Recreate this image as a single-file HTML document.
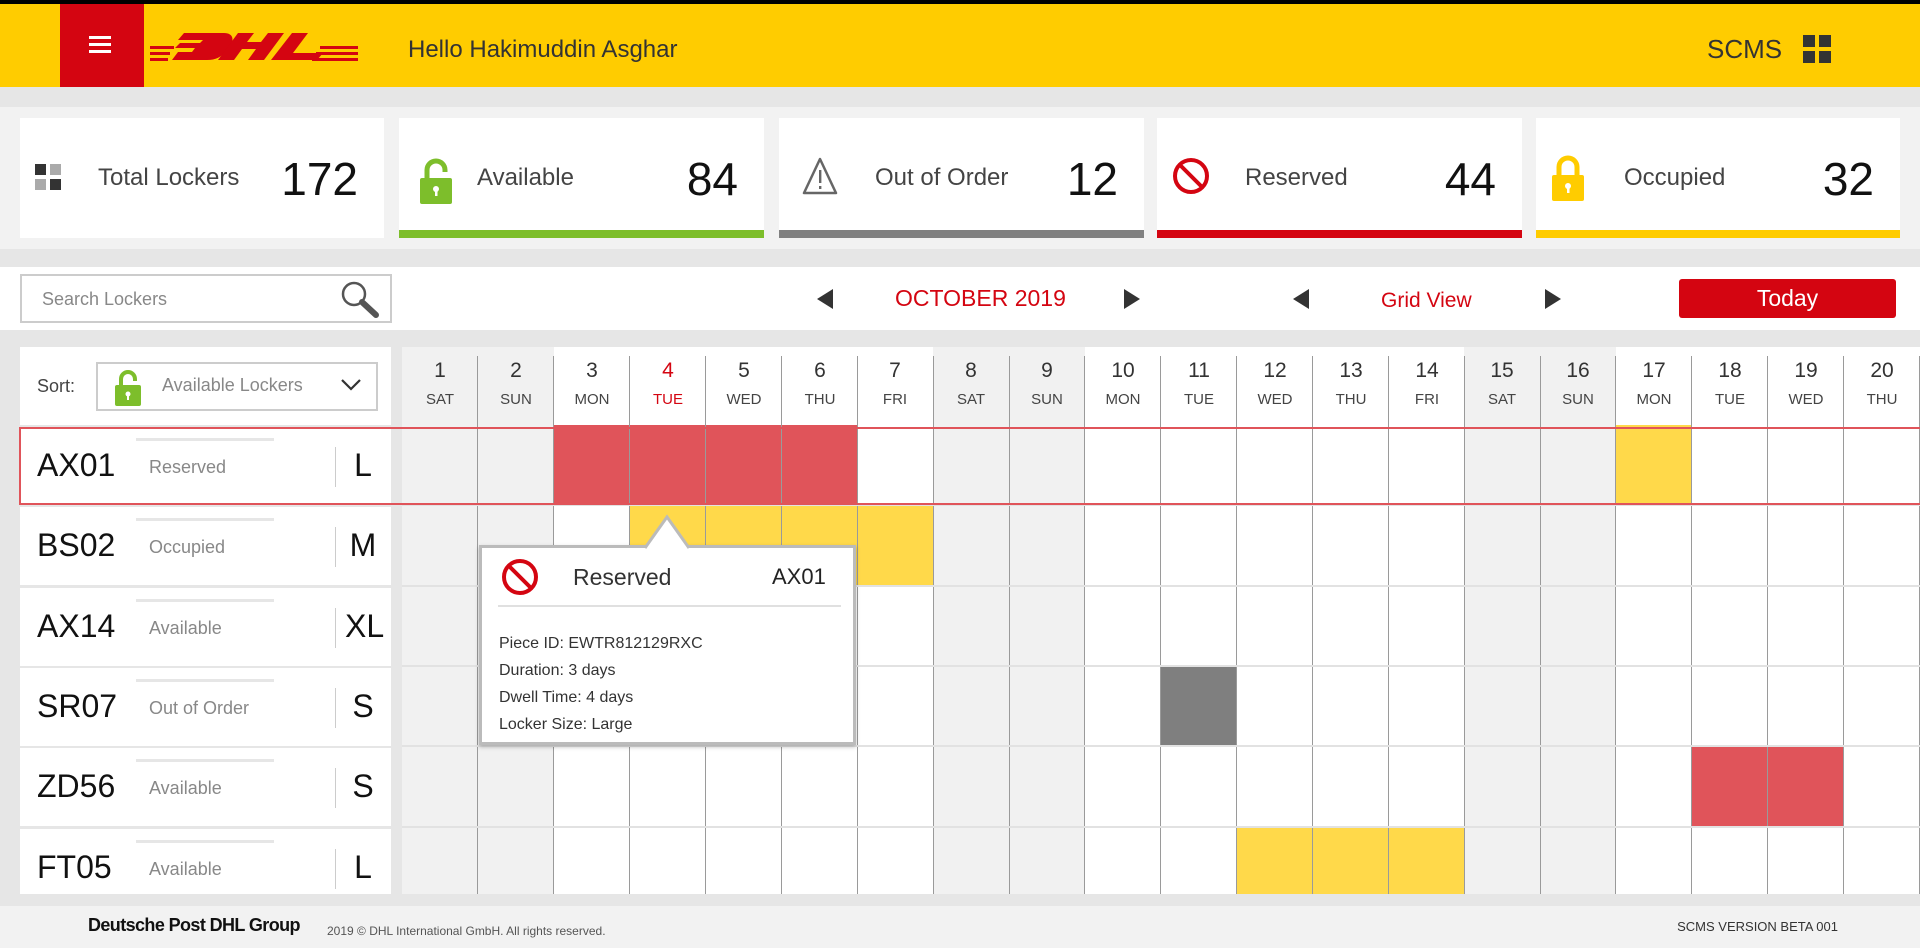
<!DOCTYPE html>
<html><head><meta charset="utf-8">
<style>
*{margin:0;padding:0;box-sizing:border-box}
body{width:1920px;height:948px;overflow:hidden;background:#e6e6e6;font-family:"Liberation Sans",sans-serif;position:relative;color:#222}
.a{position:absolute}
.card{position:absolute;top:118px;height:120px;background:#fff}
.card .bar{position:absolute;left:0;right:0;bottom:0;height:8px}
.card .lbl{position:absolute;left:78px;top:46px;font-size:24px;color:#444}
.card .num{position:absolute;right:26px;top:34px;font-size:46px;color:#111}
.hd{position:absolute;top:347px;height:78px;width:76px;text-align:center}
.hd .n{font-size:21px;margin-top:12px;color:#333}
.hd .d{font-size:15px;margin-top:8px;color:#444}
.row{position:absolute;left:20px;width:371px;height:78px;background:#fff}
.row .id{position:absolute;left:17px;top:20px;font-size:32px;color:#111}
.row .st{position:absolute;left:129px;top:30px;font-size:18px;color:#888}
.row .ln{position:absolute;left:116px;top:11px;width:138px;height:3px;background:#e6e6e6}
.row .sp{position:absolute;left:315px;top:20px;width:1px;height:40px;background:#ccc}
.row .sz{position:absolute;left:325px;width:36px;text-align:center;top:20px;font-size:32px;color:#111}
.c{position:absolute}
.v{position:absolute;top:356px;width:1px;height:538px;background:#9a9a9a}
</style></head><body>
<div class="a" style="left:0;top:0;width:1920px;height:4px;background:#000"></div>
<div class="a" style="left:0;top:4px;width:1920px;height:83px;background:#FFCC00"></div>
<div class="a" style="left:60px;top:4px;width:84px;height:83px;background:#D40511"></div>
<div class="a" style="left:89px;top:36px;width:22px;height:3px;background:#fff;box-shadow:0 7px 0 #fff,0 14px 0 #fff"></div>
<svg class="a" style="left:150px;top:30px" width="208" height="34" viewBox="0 0 208 34">
<g fill="#D40511">
<path d="M34 3h40c10 0 10 8 6 13l-5 6c-4 5-9 8-18 8H22l6-8h14l3-4h-20l5-5h20l3-3H28z"/>
<path d="M88 3h16l-7 9h14l7-9h16l-20 27h-16l8-11h-14l-8 11H68z"/>
<path d="M142 3h16l-15 20h30l-6 7h-46z"/>
<rect x="0" y="16" width="24" height="3"/><rect x="0" y="22" width="20" height="3"/><rect x="0" y="28" width="18" height="3"/>
<rect x="170" y="16" width="38" height="3"/><rect x="166" y="22" width="42" height="3"/><rect x="162" y="28" width="46" height="3"/>
</g></svg>
<div class="a" style="left:408px;top:36px;font-size:24px;color:#333">Hello Hakimuddin Asghar</div>
<div class="a" style="left:1707px;top:34px;font-size:26px;color:#333">SCMS</div>
<div class="a" style="left:1803px;top:35px;width:12px;height:12px;background:#333;box-shadow:16px 0 0 #333,0 16px 0 #333,16px 16px 0 #333"></div>

<div class="a" style="left:0;top:107px;width:1920px;height:142px;background:#f2f2f2"></div>
<!-- cards -->
<div class="card" style="left:20px;width:364px">
 <div class="a" style="left:15px;top:46px;width:11px;height:11px;background:#333"></div>
 <div class="a" style="left:30px;top:46px;width:11px;height:11px;background:#aaa"></div>
 <div class="a" style="left:15px;top:61px;width:11px;height:11px;background:#aaa"></div>
 <div class="a" style="left:30px;top:61px;width:11px;height:11px;background:#333"></div>
 <div class="lbl">Total Lockers</div><div class="num">172</div></div>
<div class="card" style="left:399px;width:365px">
 <svg class="a" style="left:21px;top:40px" width="34" height="46"><path d="M7 20V12a9 9 0 0 1 18 0v2" fill="none" stroke="#7DBE2B" stroke-width="5"/><rect x="0" y="20" width="32" height="26" rx="2" fill="#7DBE2B"/><circle cx="16" cy="31" r="3" fill="#fff"/><rect x="15" y="31" width="2.5" height="7" fill="#fff"/></svg>
 <div class="lbl">Available</div><div class="num">84</div><div class="bar" style="background:#7DBE2B"></div></div>
<div class="card" style="left:779px;width:365px">
 <svg class="a" style="left:22px;top:38px" width="38" height="40"><path d="M19 3L3 37h32z" fill="none" stroke="#666" stroke-width="2.5" stroke-linejoin="round"/><rect x="18" y="14" width="2.4" height="13" fill="#666"/><rect x="18" y="30" width="2.4" height="3" fill="#666"/></svg>
 <div class="lbl" style="left:96px">Out of Order</div><div class="num">12</div><div class="bar" style="background:#808080"></div></div>
<div class="card" style="left:1157px;width:365px">
 <svg class="a" style="left:14px;top:38px" width="40" height="40"><circle cx="20" cy="20" r="16" fill="none" stroke="#D40511" stroke-width="4"/><path d="M9 9l22 22" stroke="#D40511" stroke-width="4"/></svg>
 <div class="lbl" style="left:88px">Reserved</div><div class="num">44</div><div class="bar" style="background:#D40511"></div></div>
<div class="card" style="left:1536px;width:364px">
 <svg class="a" style="left:16px;top:36px" width="34" height="48"><path d="M7 22V13a9 9 0 0 1 18 0v9" fill="none" stroke="#FFCC00" stroke-width="5"/><rect x="0" y="21" width="32" height="26" rx="2" fill="#FFCC00"/><circle cx="16" cy="32" r="3" fill="#fff"/><rect x="15" y="32" width="2.5" height="7" fill="#fff"/></svg>
 <div class="lbl" style="left:88px">Occupied</div><div class="num">32</div><div class="bar" style="background:#FFCC00"></div></div>

<!-- toolbar -->
<div class="a" style="left:0;top:267px;width:1920px;height:63px;background:#fff"></div>
<div class="a" style="left:20px;top:274px;width:372px;height:49px;border:2px solid #ccc;background:#fff"></div>
<div class="a" style="left:42px;top:289px;font-size:18px;color:#888">Search Lockers</div>
<svg class="a" style="left:340px;top:280px" width="50" height="42"><circle cx="14" cy="14" r="11" fill="none" stroke="#555" stroke-width="2.5"/><path d="M22 22l14 13" stroke="#555" stroke-width="6" stroke-linecap="round"/></svg>
<div class="a" style="left:817px;top:289px;width:0;height:0;border-top:10px solid transparent;border-bottom:10px solid transparent;border-right:16px solid #333"></div>
<div class="a" style="left:895px;top:285px;font-size:23px;color:#D40511">OCTOBER 2019</div>
<div class="a" style="left:1124px;top:289px;width:0;height:0;border-top:10px solid transparent;border-bottom:10px solid transparent;border-left:16px solid #333"></div>
<div class="a" style="left:1293px;top:289px;width:0;height:0;border-top:10px solid transparent;border-bottom:10px solid transparent;border-right:16px solid #333"></div>
<div class="a" style="left:1381px;top:289px;font-size:21px;color:#D40511">Grid View</div>
<div class="a" style="left:1545px;top:289px;width:0;height:0;border-top:10px solid transparent;border-bottom:10px solid transparent;border-left:16px solid #333"></div>
<div class="a" style="left:1679px;top:279px;width:217px;height:39px;background:#D40511;border-radius:3px;color:#fff;font-size:23px;text-align:center;line-height:39px">Today</div>

<!-- left panel header -->
<div class="a" style="left:20px;top:347px;width:371px;height:78px;background:#fff"></div>
<div class="a" style="left:37px;top:376px;font-size:18px;color:#444">Sort:</div>
<div class="a" style="left:96px;top:362px;width:282px;height:49px;border:2px solid #ccc;background:#fff"></div>
<svg class="a" style="left:115px;top:369px" width="28" height="38"><path d="M6 17V10a7 7 0 0 1 14 0v2" fill="none" stroke="#7DBE2B" stroke-width="4"/><rect x="0" y="16" width="26" height="21" rx="2" fill="#7DBE2B"/><circle cx="13" cy="25" r="2.5" fill="#fff"/><rect x="12" y="25" width="2" height="6" fill="#fff"/></svg>
<div class="a" style="left:162px;top:375px;font-size:18px;color:#888">Available Lockers</div>
<svg class="a" style="left:340px;top:377px" width="22" height="16"><path d="M2 3l9 9 9-9" fill="none" stroke="#333" stroke-width="2.2"/></svg>

<!-- calendar -->
<div class="a" style="left:402px;top:347px;width:1518px;height:547px;background:#fff"></div>
<div class="a" style="left:402px;top:347px;width:152px;height:547px;background:#f1f1f1"></div>
<div class="a" style="left:933px;top:347px;width:152px;height:547px;background:#f1f1f1"></div>
<div class="a" style="left:1464px;top:347px;width:152px;height:547px;background:#f1f1f1"></div>
<!-- colored cells -->
<div class="c" style="left:554px;top:425px;width:304px;height:80px;background:#E0545A"></div>
<div class="c" style="left:1616px;top:425px;width:76px;height:80px;background:#FFD94A"></div>
<div class="c" style="left:630px;top:505px;width:304px;height:81px;background:#FFD94A"></div>
<div class="c" style="left:1161px;top:666px;width:76px;height:80px;background:#7f7f7f"></div>
<div class="c" style="left:1692px;top:746px;width:152px;height:81px;background:#E0545A"></div>
<div class="c" style="left:1237px;top:827px;width:228px;height:67px;background:#FFD94A"></div>
<!-- grid lines -->
<div class="v" style="left:477px"></div><div class="v" style="left:553px"></div><div class="v" style="left:629px"></div>
<div class="v" style="left:705px"></div><div class="v" style="left:781px"></div><div class="v" style="left:857px"></div>
<div class="v" style="left:933px"></div><div class="v" style="left:1009px"></div><div class="v" style="left:1084px"></div>
<div class="v" style="left:1160px"></div><div class="v" style="left:1236px"></div><div class="v" style="left:1312px"></div>
<div class="v" style="left:1388px"></div><div class="v" style="left:1464px"></div><div class="v" style="left:1540px"></div>
<div class="v" style="left:1615px"></div><div class="v" style="left:1691px"></div><div class="v" style="left:1767px"></div>
<div class="v" style="left:1843px"></div><div class="v" style="left:1919px"></div>
<div class="a" style="left:402px;top:504px;width:1518px;height:2px;background:#e2e2e2"></div>
<div class="a" style="left:402px;top:585px;width:1518px;height:2px;background:#e2e2e2"></div>
<div class="a" style="left:402px;top:665px;width:1518px;height:2px;background:#e2e2e2"></div>
<div class="a" style="left:402px;top:745px;width:1518px;height:2px;background:#e2e2e2"></div>
<div class="a" style="left:402px;top:826px;width:1518px;height:2px;background:#e2e2e2"></div>
<!-- headers -->
<div class="hd" style="left:402px"><div class="n">1</div><div class="d">SAT</div></div>
<div class="hd" style="left:478px"><div class="n">2</div><div class="d">SUN</div></div>
<div class="hd" style="left:554px"><div class="n">3</div><div class="d">MON</div></div>
<div class="hd" style="left:630px"><div class="n" style="color:#D40511">4</div><div class="d" style="color:#D40511">TUE</div></div>
<div class="hd" style="left:706px"><div class="n">5</div><div class="d">WED</div></div>
<div class="hd" style="left:782px"><div class="n">6</div><div class="d">THU</div></div>
<div class="hd" style="left:857px"><div class="n">7</div><div class="d">FRI</div></div>
<div class="hd" style="left:933px"><div class="n">8</div><div class="d">SAT</div></div>
<div class="hd" style="left:1009px"><div class="n">9</div><div class="d">SUN</div></div>
<div class="hd" style="left:1085px"><div class="n">10</div><div class="d">MON</div></div>
<div class="hd" style="left:1161px"><div class="n">11</div><div class="d">TUE</div></div>
<div class="hd" style="left:1237px"><div class="n">12</div><div class="d">WED</div></div>
<div class="hd" style="left:1313px"><div class="n">13</div><div class="d">THU</div></div>
<div class="hd" style="left:1389px"><div class="n">14</div><div class="d">FRI</div></div>
<div class="hd" style="left:1464px"><div class="n">15</div><div class="d">SAT</div></div>
<div class="hd" style="left:1540px"><div class="n">16</div><div class="d">SUN</div></div>
<div class="hd" style="left:1616px"><div class="n">17</div><div class="d">MON</div></div>
<div class="hd" style="left:1692px"><div class="n">18</div><div class="d">TUE</div></div>
<div class="hd" style="left:1768px"><div class="n">19</div><div class="d">WED</div></div>
<div class="hd" style="left:1844px"><div class="n">20</div><div class="d">THU</div></div>

<!-- rows left -->
<div class="row" style="top:427px"><div class="ln"></div><div class="id">AX01</div><div class="st">Reserved</div><div class="sp"></div><div class="sz">L</div></div>
<div class="row" style="top:507px"><div class="ln"></div><div class="id">BS02</div><div class="st">Occupied</div><div class="sp"></div><div class="sz">M</div></div>
<div class="row" style="top:588px"><div class="ln"></div><div class="id">AX14</div><div class="st">Available</div><div class="sp"></div><div class="sz">XL</div></div>
<div class="row" style="top:668px"><div class="ln"></div><div class="id">SR07</div><div class="st">Out of Order</div><div class="sp"></div><div class="sz">S</div></div>
<div class="row" style="top:748px"><div class="ln"></div><div class="id">ZD56</div><div class="st">Available</div><div class="sp"></div><div class="sz">S</div></div>
<div class="row" style="top:829px;height:65px"><div class="ln"></div><div class="id">FT05</div><div class="st">Available</div><div class="sp"></div><div class="sz">L</div></div>

<!-- highlight -->
<div class="a" style="left:19px;top:427px;width:1901px;height:78px;border:2px solid #E0545A;border-right:none"></div>

<!-- tooltip -->
<div class="a" style="left:479px;top:545px;width:377px;height:200px;background:#fff;border:3px solid #bbb;box-shadow:0 2px 4px rgba(0,0,0,.25)"></div>
<svg class="a" style="left:645px;top:514px" width="46" height="36"><path d="M0 34L22 3 44 34" fill="#fff" stroke="#bbb" stroke-width="3"/><rect x="3" y="33" width="38" height="4" fill="#fff"/></svg>
<svg class="a" style="left:500px;top:557px" width="40" height="40"><circle cx="20" cy="20" r="16" fill="none" stroke="#D40511" stroke-width="4"/><path d="M9 9l22 22" stroke="#D40511" stroke-width="4"/></svg>
<div class="a" style="left:573px;top:564px;font-size:23px;color:#333">Reserved</div>
<div class="a" style="left:772px;top:564px;font-size:22px;color:#222">AX01</div>
<div class="a" style="left:498px;top:605px;width:343px;height:2px;background:#e0e0e0"></div>
<div class="a" style="left:499px;top:630px;font-size:16px;color:#333;line-height:27px">Piece ID: EWTR812129RXC<br>Duration: 3 days<br>Dwell Time: 4 days<br>Locker Size: Large</div>

<!-- footer -->
<div class="a" style="left:0;top:906px;width:1920px;height:42px;background:#f2f2f2"></div>
<div class="a" style="left:88px;top:915px;font-size:18px;font-weight:bold;color:#111;letter-spacing:-0.6px">Deutsche Post DHL Group</div>
<div class="a" style="left:327px;top:924px;font-size:12px;color:#555">2019 © DHL International GmbH. All rights reserved.</div>
<div class="a" style="right:82px;top:919px;font-size:13px;color:#333">SCMS VERSION BETA 001</div>
</body></html>
